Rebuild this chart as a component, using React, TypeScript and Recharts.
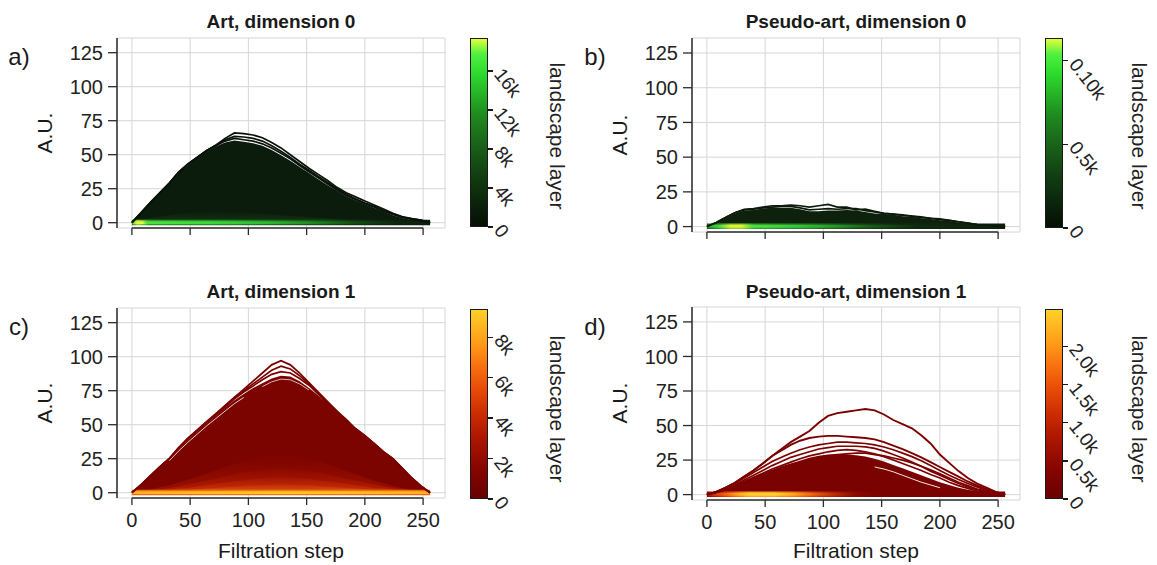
import React from "react";
import { ComposedChart, Area, Line, XAxis, YAxis, CartesianGrid, ReferenceLine } from "recharts";

const FONT = '"Liberation Sans", Arial, Helvetica, sans-serif';

const steps = [0, 8, 16, 24, 32, 40, 48, 56, 64, 72, 80, 88, 96, 104, 112, 120, 128, 136, 144, 152, 160, 168, 176, 184, 192, 200, 208, 216, 224, 232, 240, 248, 256];
const xTicks = [0, 50, 100, 150, 200, 250];
const yTicks = [0, 25, 50, 75, 100, 125];
const Y_DOMAIN: [number, number] = [-3.9, 135.8];
const X_DOMAIN: [number, number] = [-12.8, 268.8];

// bright band of the deep layers lying along zero
const stripOuter = [2.2, 2.2, 2.2, 2.2, 2.2, 2.2, 2.2, 2.2, 2.2, 2.2, 2.2, 2.2, 2.2, 2.2, 2.2, 2.2, 2.2, 2.2, 2.2, 2.2, 2.2, 2.2, 2.2, 2.2, 2.2, 2.2, 2.2, 2.2, 2.2, 2.2, 2.2, 2.2, 2.2];
const stripCore = [1.1, 1.1, 1.1, 1.1, 1.1, 1.1, 1.1, 1.1, 1.1, 1.1, 1.1, 1.1, 1.1, 1.1, 1.1, 1.1, 1.1, 1.1, 1.1, 1.1, 1.1, 1.1, 1.1, 1.1, 1.1, 1.1, 1.1, 1.1, 1.1, 1.1, 1.1, 1.1, 1.1];

// a) Art, dimension 0
const artD0L1 = [0, 7.5, 15, 22, 29, 37, 43, 48, 53, 57, 62, 66, 65.5, 64.5, 62.5, 59, 55, 50, 45, 40, 35.5, 31, 26, 22, 19, 16, 13, 10, 7, 4.5, 3, 2, 0];
const artD0L2 = [0, 7.5, 15, 22, 29, 37, 43, 48, 53, 57, 61, 63.5, 63, 62, 60, 56.5, 52.5, 48, 43, 38.5, 34, 29.5, 25, 21, 17.5, 14.5, 12, 9, 6.5, 4, 3, 2, 0];
const artD0L3 = [0, 7.5, 15, 22, 29, 37, 43, 48, 53, 56.5, 60, 62, 61, 60, 58, 55, 51, 47, 42, 37.5, 33, 28.5, 24, 20, 17, 14, 11.5, 8.5, 6, 4, 2.5, 1.5, 0];
const artD0Body = [0, 7.5, 15, 22, 29, 36.5, 42.5, 47.5, 52.5, 56, 59, 60.5, 59.5, 58.5, 56.5, 53.5, 49.5, 45.5, 41, 36.5, 32, 27.5, 23.5, 19.5, 16.5, 13.5, 11, 8, 5.5, 3.5, 2, 1, 0];
const artD0Inner = [0, 2, 3.5, 4.5, 5.5, 6.5, 7, 7.5, 8, 8, 8, 7.5, 7.5, 7, 6.5, 6, 5.5, 5, 4.5, 4, 3.5, 3, 2.5, 2, 1.5, 1.5, 1, 1, 0.5, 0.5, 0.5, 0, 0];

// b) Pseudo-art, dimension 0
const pseD0L1 = [0, 3, 6.5, 10, 12.5, 13, 14, 15, 15, 15.5, 15, 14, 15, 16, 14, 14, 12, 12.5, 11, 9.5, 9, 8.5, 7.5, 7, 6, 5.5, 4.5, 3.5, 2.5, 1.5, 1, 0.5, 0];
const pseD0L2 = [0, 3, 6.5, 10, 12, 12.5, 13.5, 14, 14.5, 14.5, 13.5, 12, 12.5, 13, 12.5, 13, 13, 11.5, 10.5, 9.5, 9, 8, 7.5, 6.5, 6, 5, 4.5, 3.5, 2.5, 1.5, 1, 0.5, 0];
const pseD0Body = [0, 2.5, 6, 9.5, 11.5, 12, 13, 13.5, 13.5, 13.5, 12.5, 11, 11, 11.5, 11.5, 12, 11.5, 10.5, 9.5, 9, 8.5, 7.5, 7, 6, 5.5, 4.5, 4, 3, 2, 1, 0.5, 0, 0];

// c) Art, dimension 1
const artD1L1 = [0, 6, 12.5, 19, 25, 33, 40, 46, 52, 58, 64, 70, 76, 82, 88, 94, 97, 94, 88, 81, 74, 67, 60, 54, 47, 42, 36, 30, 25, 18, 11, 5, 0];
const artD1L2 = [0, 6, 12.5, 19, 25, 33, 40, 46, 52, 58, 64, 70, 75, 80, 85, 90, 93, 91, 86, 80, 73, 66, 60, 53, 47, 42, 36, 30, 25, 18, 11, 5, 0];
const artD1L3 = [0, 6, 12.5, 19, 25, 32.5, 39.5, 45.5, 51.5, 57, 63, 69, 74, 78.5, 83, 87, 89, 88, 84, 79, 72.5, 66, 59.5, 53, 47, 41.5, 36, 30, 25, 18, 11, 5, 0];
const artD1Body = [0, 5.5, 12, 18.5, 24.5, 32, 39, 45, 51, 56.5, 62.5, 68, 72.5, 77, 80.5, 84, 86, 85.5, 82, 77, 71.5, 65.5, 59, 52.5, 46.5, 41, 35.5, 29.5, 24.5, 17.5, 10.5, 4.5, 0];
const artD1Gap = [null, null, null, null, 23.5, 30.5, 37, 43, 49, 54.5, 60, 65.5, 70, null, null, null, null, null, null, null, null, null, null, null, null, null, null, null, null, null, null, null, null];
const artD1Gap2 = [null, null, null, null, null, null, null, null, null, null, null, null, null, null, 78, 81.5, 83.5, 83, 80, 75.5, null, null, null, null, null, null, null, null, null, null, null, null, null];
const artD1In1 = [0, 1, 2.5, 4, 5.5, 7.5, 9.5, 11.5, 14, 16.5, 19, 21, 23, 25, 26.5, 27.5, 28, 27.5, 26.5, 25, 23, 21, 18.5, 16, 13.5, 11, 9, 7, 5, 3.5, 2, 1, 0];
const artD1In2 = [0, 0.5, 1.5, 2.5, 3.5, 4.5, 6, 7.5, 9, 10.5, 12, 13.5, 15, 16, 17, 17.5, 18, 17.5, 17, 16, 15, 13.5, 12, 10.5, 9, 7.5, 6, 4.5, 3.5, 2.5, 1.5, 0.5, 0];
const artD1In3 = [0, 0.5, 1, 1.5, 2, 3, 3.5, 4.5, 5.5, 6.5, 7.5, 8.5, 9, 10, 10.5, 11, 11, 11, 10.5, 10, 9, 8.5, 7.5, 6.5, 5.5, 4.5, 3.5, 3, 2, 1.5, 1, 0.5, 0];
const artD1In4 = [0, 0.5, 0.5, 1, 1.5, 1.5, 2, 2.5, 3, 3.5, 4, 4.5, 5, 5.5, 5.5, 6, 6, 6, 5.5, 5.5, 5, 4.5, 4, 3.5, 3, 2.5, 2, 1.5, 1.5, 1, 0.5, 0.5, 0];

// d) Pseudo-art, dimension 1
const pseD1L1 = [0, 2, 5, 8.5, 13, 17.5, 22.5, 28, 33, 38, 42, 46, 52, 57, 59, 60, 61, 62, 61, 58, 54, 51, 48, 43, 37, 29, 23, 17, 12, 8, 5, 2, 0];
const pseD1L2 = [0, 2, 5, 8.5, 13, 17.5, 22.5, 28, 32, 36, 39, 41, 42, 42.5, 42.5, 42, 41.5, 41, 40, 38, 35.5, 33, 30, 27, 23.5, 20, 16.5, 13, 9.5, 6.5, 4, 1.5, 0];
const pseD1L3 = [0, 2, 4.5, 8, 12, 16, 20, 24, 27, 30, 32.5, 34.5, 36, 37, 38, 38, 37.5, 37, 36, 34.5, 32.5, 30, 27.5, 24.5, 21, 17.5, 14, 11, 8, 5.5, 3, 1, 0];
const pseD1L4 = [0, 1.5, 4, 7, 10.5, 14, 17.5, 21, 24, 27, 29, 31, 33, 34, 35, 35, 35, 34.5, 33.5, 31.5, 29, 26.5, 23.5, 20.5, 17, 14, 11, 8, 5.5, 3.5, 2, 1, 0];
const pseD1L5 = [0, 1.5, 3.5, 6.5, 9.5, 12.5, 15.5, 18.5, 21, 23.5, 26, 28, 29.5, 31, 32, 32.5, 32, 31, 29.5, 27.5, 25, 22.5, 20, 17.5, 14.5, 12, 9, 6.5, 4.5, 2.5, 1.5, 0.5, 0];
const pseD1L6 = [0, 1.5, 3.5, 6, 9, 12, 15, 17.5, 20, 22, 24, 26, 27.5, 28.5, 29, 29.5, 30, 30, 29, 28, 26.5, 25, 23, 20.5, 18, 15, 12, 9, 6.5, 4, 2.5, 1, 0];
const pseD1Body = [0, 1.5, 3.5, 6, 9, 12, 15, 17.5, 20, 22, 24, 26, 27.5, 28.5, 29, 29, 28.5, 27.5, 26, 24, 21.5, 19, 16.5, 14, 11.5, 9, 7, 5, 3.5, 2.5, 1.5, 0.5, 0];
const pseD1Gap = [null, null, null, null, null, null, null, null, null, null, null, null, null, null, null, null, null, null, 20, 18.5, 16.5, 14, 11.5, 9, 7, 5, null, null, null, null, null, null, null];

// colour bars
const cbArtD0Labels = ["0", "4k", "8k", "12k", "16k"];
const cbArtD0Values = [0, 4000, 8000, 12000, 16000];
const cbPseD0Labels = ["0", "0.5k", "0.10k"];
const cbPseD0Values = [0, 50, 100];
const cbArtD1Labels = ["0", "2k", "4k", "6k", "8k"];
const cbArtD1Values = [0, 2000, 4000, 6000, 8000];
const cbPseD1Labels = ["0", "0.5k", "1.0k", "1.5k", "2.0k"];
const cbPseD1Values = [0, 500, 1000, 1500, 2000];

const GREEN_BAR = "#050f05 0%, #0b230b 12%, #124012 28%, #1a661a 45%, #1f8c1f 60%, #27b827 72%, #2edc2e 82%, #50f040 92%, #e0ff3a 100%";
const RED_BAR = "#680000 0%, #860500 15%, #a81400 30%, #cc2c02 45%, #e84c08 58%, #f87010 70%, #ff9a18 82%, #ffd028 100%";

type Row = Record<string, number | null>;

function buildRows(series: Record<string, (number | null)[]>): Row[] {
  return steps.map((x, i) => {
    const row: Row = { x };
    for (const k of Object.keys(series)) row[k] = series[k][i];
    return row;
  });
}

interface AreaSpec { key: string; fill: string; base?: number }
interface LineSpec { key: string; stroke: string; width?: number }
interface GradSpec { id: string; vertical?: boolean; stops: [number, string][] }

interface PanelProps {
  left: number;
  top: number;
  width: number;
  height: number;
  margin: { top: number; right: number; bottom: number; left: number };
  xAxisHeight: number;
  showXLabels: boolean;
  rows: Row[];
  areas: AreaSpec[];
  lines: LineSpec[];
  gradients: GradSpec[];
}

const AXIS = "#2b2b2b";

function Panel({ left, top, width, height, margin, xAxisHeight, showXLabels, rows, areas, lines, gradients }: PanelProps) {
  return (
    <div style={{ position: "absolute", left, top }}>
      <ComposedChart width={width} height={height} data={rows} margin={margin}>
        <defs>
          {gradients.map((g) => (
            <linearGradient key={g.id} id={g.id} x1="0" y1="0" x2={g.vertical ? "0" : "1"} y2={g.vertical ? "1" : "0"}>
              {g.stops.map(([o, c], i) => (
                <stop key={i} offset={o} stopColor={c} />
              ))}
            </linearGradient>
          ))}
        </defs>
        <CartesianGrid stroke="#d6d6d6" strokeWidth={1} />
        <XAxis
          type="number"
          dataKey="x"
          domain={X_DOMAIN}
          ticks={xTicks}
          interval={0}
          allowDataOverflow
          axisLine={false}
          tickSize={7}
          tickMargin={8}
          height={xAxisHeight}
          tickLine={{ stroke: AXIS, strokeWidth: 1.3 }}
          tick={showXLabels ? { fontSize: 20, fill: "#222" } : () => <g />}
        />
        <YAxis
          type="number"
          domain={Y_DOMAIN}
          ticks={yTicks}
          interval={0}
          allowDataOverflow
          width={60}
          tickSize={9}
          tickMargin={5}
          axisLine={{ stroke: AXIS, strokeWidth: 1.5 }}
          tickLine={{ stroke: AXIS, strokeWidth: 1.3 }}
          tick={{ fontSize: 20, fill: "#222" }}
        />
        {areas.map((a) => (
          <Area
            key={a.key}
            dataKey={a.key}
            type="linear"
            stroke="none"
            fill={a.fill}
            fillOpacity={1}
            baseValue={a.base}
            dot={false}
            activeDot={false}
            isAnimationActive={false}
          />
        ))}
        {lines.map((l) => (
          <Line
            key={l.key}
            dataKey={l.key}
            type="linear"
            stroke={l.stroke}
            strokeWidth={l.width ?? 1.7}
            dot={false}
            activeDot={false}
            isAnimationActive={false}
          />
        ))}
        <ReferenceLine
          segment={[{ x: 0, y: Y_DOMAIN[0] }, { x: 250, y: Y_DOMAIN[0] }]}
          stroke={AXIS}
          strokeWidth={1.5}
          ifOverflow="visible"
        />
      </ComposedChart>
    </div>
  );
}

interface ColorBarProps {
  left: number;
  top: number;
  height: number;
  gradient: string;
  labels: string[];
  values: number[];
  max: number;
  titleX: number;
  titleY: number;
}

function ColorBar({ left, top, height, gradient, labels, values, max, titleX, titleY }: ColorBarProps) {
  return (
    <>
      <div
        style={{
          position: "absolute",
          left,
          top,
          width: 18,
          height,
          background: `linear-gradient(to top, ${gradient})`,
          border: "1px solid #1a1a1a",
          boxSizing: "border-box",
        }}
      />
      {values.map((v, i) => {
        const y = top + height - (v / max) * height;
        return (
          <React.Fragment key={labels[i]}>
            <div style={{ position: "absolute", left: left + 18, top: y - 0.7, width: 5, height: 1.4, background: "#1a1a1a" }} />
            <div
              style={{
                position: "absolute",
                left: left + 28,
                top: y - 10,
                fontSize: 19,
                lineHeight: "20px",
                color: "#222",
                whiteSpace: "nowrap",
                transform: "rotate(52deg)",
                transformOrigin: "0 50%",
              }}
            >
              {labels[i]}
            </div>
          </React.Fragment>
        );
      })}
      <div
        style={{
          position: "absolute",
          left: titleX,
          top: titleY,
          fontSize: 21,
          color: "#222",
          whiteSpace: "nowrap",
          transform: "translate(-50%, -50%) rotate(90deg)",
        }}
      >
        landscape layer
      </div>
    </>
  );
}

function Label({ x, y, text, size, bold, rotate }: { x: number; y: number; text: string; size: number; bold?: boolean; rotate?: number }) {
  return (
    <div
      style={{
        position: "absolute",
        left: x,
        top: y,
        fontSize: size,
        fontWeight: bold ? 700 : 400,
        color: "#1a1a1a",
        whiteSpace: "nowrap",
        transform: `translate(-50%, -50%)${rotate ? ` rotate(${rotate}deg)` : ""}`,
      }}
    >
      {text}
    </div>
  );
}

export default function App() {
  const rowsA = buildRows({ body: artD0Body, in1: artD0Inner, so: stripOuter, sc: stripCore, l1: artD0L1, l2: artD0L2, l3: artD0L3 });
  const rowsB = buildRows({ body: pseD0Body, so: stripOuter, sc: stripCore, l1: pseD0L1, l2: pseD0L2 });
  const rowsC = buildRows({
    body: artD1Body, i1: artD1In1, i2: artD1In2, i3: artD1In3, i4: artD1In4,
    so: stripOuter, sc: stripCore, gap: artD1Gap, gap2: artD1Gap2, l1: artD1L1, l2: artD1L2, l3: artD1L3,
  });
  const rowsD = buildRows({
    body: pseD1Body, so: stripOuter, sc: stripCore, gap: pseD1Gap,
    l1: pseD1L1, l2: pseD1L2, l3: pseD1L3, l4: pseD1L4, l5: pseD1L5, l6: pseD1L6,
  });

  return (
    <div style={{ position: "absolute", left: 0, top: 0, width: 1157, height: 565, background: "#fff", fontFamily: FONT, overflow: "hidden" }}>
      <Panel
        left={0} top={0} width={460} height={270}
        margin={{ top: 38, right: 15, left: 57, bottom: 12 }}
        xAxisHeight={30} showXLabels={false} rows={rowsA}
        gradients={[
          { id: "aInner", vertical: true, stops: [[0, "#0c1e0c"], [1, "#123412"]] },
          { id: "aOuter", stops: [[0, "#2a8a20"], [0.02, "#9ad030"], [0.035, "#6ac030"], [0.06, "#2a9a2a"], [0.3, "#258a25"], [0.5, "#1c681c"], [0.7, "#134013"], [0.85, "#0d240d"], [1, "#0c1c0c"]] },
          { id: "aCore", stops: [[0, "#40d030"], [0.015, "#d8f838"], [0.035, "#e0ff40"], [0.05, "#50e040"], [0.25, "#3ad83a"], [0.45, "#30b830"], [0.6, "#208a20"], [0.75, "#144a14"], [0.9, "#0d250d"], [1, "#0c1c0c"]] },
        ]}
        areas={[
          { key: "body", fill: "#0c1c0c" },
          { key: "in1", fill: "url(#aInner)" },
          { key: "so", fill: "url(#aOuter)", base: -1.8 },
          { key: "sc", fill: "url(#aCore)", base: -0.9 },
        ]}
        lines={[
          { key: "l3", stroke: "#0a130a" },
          { key: "l2", stroke: "#0a130a" },
          { key: "l1", stroke: "#0a130a" },
        ]}
      />
      <Panel
        left={575} top={0} width={460} height={270}
        margin={{ top: 38, right: 15, left: 57, bottom: 8 }}
        xAxisHeight={30} showXLabels={false} rows={rowsB}
        gradients={[
          { id: "bOuter", stops: [[0, "#1a5a1a"], [0.04, "#30a030"], [0.08, "#8ad030"], [0.12, "#8ad030"], [0.16, "#30a830"], [0.35, "#228022"], [0.5, "#174a17"], [0.65, "#0f2a0f"], [1, "#0d200d"]] },
          { id: "bCore", stops: [[0, "#2a9a2a"], [0.04, "#40d840"], [0.08, "#e0f030"], [0.115, "#e8f030"], [0.15, "#50e040"], [0.3, "#38c838"], [0.42, "#289a28"], [0.55, "#185a18"], [0.7, "#0f2a0f"], [1, "#0d200d"]] },
        ]}
        areas={[
          { key: "body", fill: "#0d210d" },
          { key: "so", fill: "url(#bOuter)", base: -1.8 },
          { key: "sc", fill: "url(#bCore)", base: -0.9 },
        ]}
        lines={[
          { key: "l2", stroke: "#0b1a0b" },
          { key: "l1", stroke: "#0b1a0b" },
        ]}
      />
      <Panel
        left={0} top={270} width={460} height={295}
        margin={{ top: 38, right: 15, left: 57, bottom: 27 }}
        xAxisHeight={40} showXLabels rows={rowsC}
        gradients={[
          { id: "cIn1", vertical: true, stops: [[0, "#7c0300"], [1, "#9a1000"]] },
          { id: "cIn2", vertical: true, stops: [[0, "#8c0900"], [1, "#b41e00"]] },
          { id: "cIn3", vertical: true, stops: [[0, "#a41600"], [1, "#cc3406"]] },
          { id: "cIn4", vertical: true, stops: [[0, "#c02a04"], [1, "#e4560c"]] },
          { id: "cOuter", stops: [[0, "#ea6a10"], [0.5, "#f07a14"], [1, "#ea6a10"]] },
          { id: "cCore", stops: [[0, "#ffb020"], [0.5, "#ffc826"], [1, "#ffb020"]] },
        ]}
        areas={[
          { key: "body", fill: "#7b0300" },
          { key: "i1", fill: "url(#cIn1)" },
          { key: "i2", fill: "url(#cIn2)" },
          { key: "i3", fill: "url(#cIn3)" },
          { key: "i4", fill: "url(#cIn4)" },
          { key: "so", fill: "url(#cOuter)", base: -1.8 },
          { key: "sc", fill: "url(#cCore)", base: -0.9 },
        ]}
        lines={[
          { key: "gap", stroke: "#ffffff", width: 0.8 },
          { key: "gap2", stroke: "#ffffff", width: 0.7 },
          { key: "l3", stroke: "#7a0000" },
          { key: "l2", stroke: "#7a0000" },
          { key: "l1", stroke: "#7a0000" },
        ]}
      />
      <Panel
        left={575} top={270} width={460} height={295}
        margin={{ top: 37, right: 15, left: 57, bottom: 25 }}
        xAxisHeight={40} showXLabels rows={rowsD}
        gradients={[
          { id: "dOuter", stops: [[0, "#8a0800"], [0.05, "#c83008"], [0.1, "#f07010"], [0.14, "#ffa020"], [0.22, "#ffa020"], [0.3, "#f07010"], [0.38, "#c83008"], [0.47, "#901000"], [0.55, "#7a0200"], [1, "#7a0200"]] },
          { id: "dCore", stops: [[0, "#b02000"], [0.06, "#f06010"], [0.11, "#ffb020"], [0.15, "#ffd030"], [0.23, "#ffd030"], [0.28, "#ffb020"], [0.34, "#f07010"], [0.42, "#c03008"], [0.5, "#8a0800"], [0.6, "#7a0200"], [1, "#7a0200"]] },
        ]}
        areas={[
          { key: "body", fill: "#7a0200" },
          { key: "so", fill: "url(#dOuter)", base: -1.8 },
          { key: "sc", fill: "url(#dCore)", base: -0.9 },
        ]}
        lines={[
          { key: "gap", stroke: "#ffffff", width: 0.9 },
          { key: "l6", stroke: "#7d0000" },
          { key: "l5", stroke: "#7d0000" },
          { key: "l4", stroke: "#7d0000" },
          { key: "l3", stroke: "#7d0000" },
          { key: "l2", stroke: "#7d0000", width: 1.9 },
          { key: "l1", stroke: "#7d0000", width: 1.9 },
        ]}
      />

      <ColorBar left={470} top={38} height={189} gradient={GREEN_BAR} labels={cbArtD0Labels} values={cbArtD0Values} max={19400} titleX={557} titleY={136} />
      <ColorBar left={1045} top={38} height={190} gradient={GREEN_BAR} labels={cbPseD0Labels} values={cbPseD0Values} max={113.6} titleX={1139} titleY={136} />
      <ColorBar left={470} top={309} height={190} gradient={RED_BAR} labels={cbArtD1Labels} values={cbArtD1Values} max={9400} titleX={557} titleY={409} />
      <ColorBar left={1045} top={309} height={190} gradient={RED_BAR} labels={cbPseD1Labels} values={cbPseD1Values} max={2490} titleX={1139} titleY={409} />

      <Label x={281} y={22} text="Art, dimension 0" size={19} bold />
      <Label x={856} y={22} text="Pseudo-art, dimension 0" size={19} bold />
      <Label x={281} y={292} text="Art, dimension 1" size={19} bold />
      <Label x={856} y={292} text="Pseudo-art, dimension 1" size={19} bold />

      <Label x={19} y={57} text="a)" size={24} />
      <Label x={595} y={57} text="b)" size={24} />
      <Label x={19} y={327} text="c)" size={24} />
      <Label x={595} y={327} text="d)" size={24} />

      <Label x={45} y={133} text="A.U." size={21} rotate={-90} />
      <Label x={620} y={135} text="A.U." size={21} rotate={-90} />
      <Label x={45} y={403} text="A.U." size={21} rotate={-90} />
      <Label x={620} y={403} text="A.U." size={21} rotate={-90} />

      <Label x={281} y={551} text="Filtration step" size={21} />
      <Label x={856} y={551} text="Filtration step" size={21} />
    </div>
  );
}
